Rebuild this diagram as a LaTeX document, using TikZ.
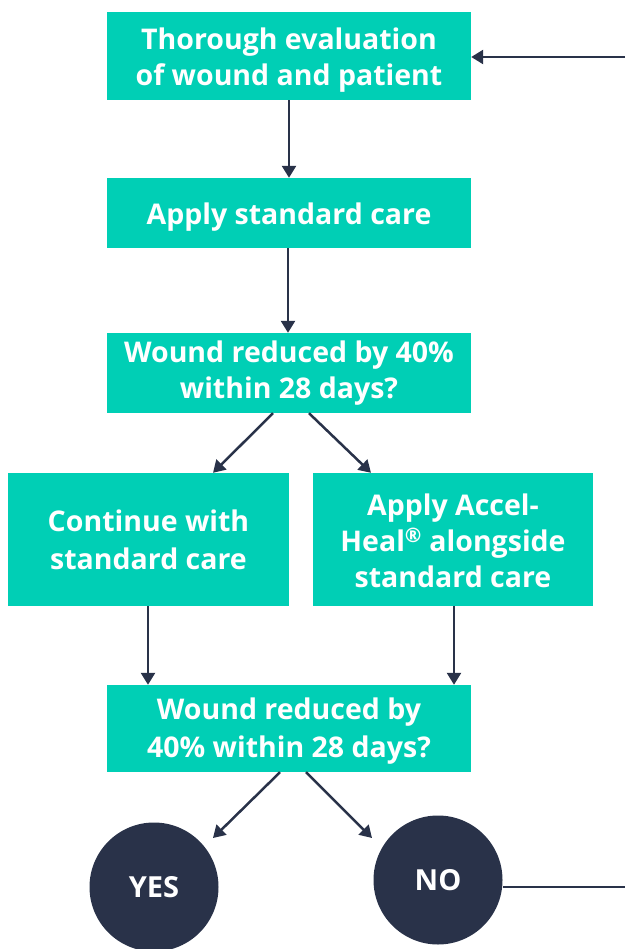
\documentclass[tikz,border=0pt]{standalone}
\usepackage{fontspec}
\setmainfont{Open Sans}
\usetikzlibrary{arrows.meta}
\definecolor{teal1}{RGB}{0,207,181}
\definecolor{navy}{RGB}{41,50,73}
\newcommand{\boxtext}[2][4pt]{\raisebox{-#1}[\height][\depth]{\begin{tabular}{@{}c@{}}#2\end{tabular}}}
\tikzset{
  box/.style={fill=teal1, text=white, inner sep=0pt, font=\fontsize{28.5}{36}\selectfont\bfseries},
  circ/.style={circle, fill=navy, text=white, inner sep=0pt, minimum size=129pt, font=\fontsize{29}{30}\selectfont\bfseries},
  arr/.style={draw=navy, line width=2.5pt, -{Triangle[length=12pt,width=14pt]}},
  ln/.style={draw=navy, line width=2.5pt}
}
\begin{document}
\begin{tikzpicture}[x=1pt,y=-1pt]
\useasboundingbox (0,0) rectangle (625,949);
\node[box, minimum width=364pt, minimum height=88pt] (b1) at (289,56) {\boxtext{Thorough evaluation\\of wound and patient}};
\node[box, minimum width=364pt, minimum height=70pt] (b2) at (289,213) {\boxtext{Apply standard care}};
\node[box, minimum width=364pt, minimum height=80pt] (b3) at (289,373) {\boxtext[0.5pt]{Wound reduced by 40\%\\within 28 days?}};
\node[box, minimum width=281pt, minimum height=133pt] (b4) at (148.5,539.5) {\boxtext[4pt]{Continue with\\[2pt]standard care}};
\node[box, minimum width=280pt, minimum height=133pt] (b5) at (453,539.5) {\boxtext[5pt]{Apply Accel-\\Heal\textsuperscript{\textregistered} alongside\\standard care}};
\node[box, minimum width=364pt, minimum height=87pt] (b6) at (289,728.5) {\boxtext[3pt]{Wound reduced by\\[2pt]40\% within 28 days?}};
\node[circ] (yes) at (154,887) {YES};
\node[circ] (no) at (438,880) {NO};
\coordinate (topR) at (625,57);
\coordinate (noR) at (625,887);
\draw[arr] (topR) -- (b1.east |- topR);
\draw[arr] (b1.south -| 289,0) -- (b2.north -| 289,0);
\draw[arr] (b2.south -| 288,0) -- (b3.north -| 288,0);
\draw[arr] (b3.south -| 273,0) -- (b4.north -| 213,0);
\draw[arr] (b3.south -| 309,0) -- (b5.north -| 371,0);
\draw[arr] (b4.south -| 148,0) -- (b6.north -| 148,0);
\draw[arr] (b5.south -| 454,0) -- (b6.north -| 454,0);
\draw[arr] (b6.south -| 280,0) -- (213,838);
\draw[arr] (b6.south -| 306,0) -- (372,838);
\draw[ln] (no.east |- noR) -- (noR);
\end{tikzpicture}
\end{document}
